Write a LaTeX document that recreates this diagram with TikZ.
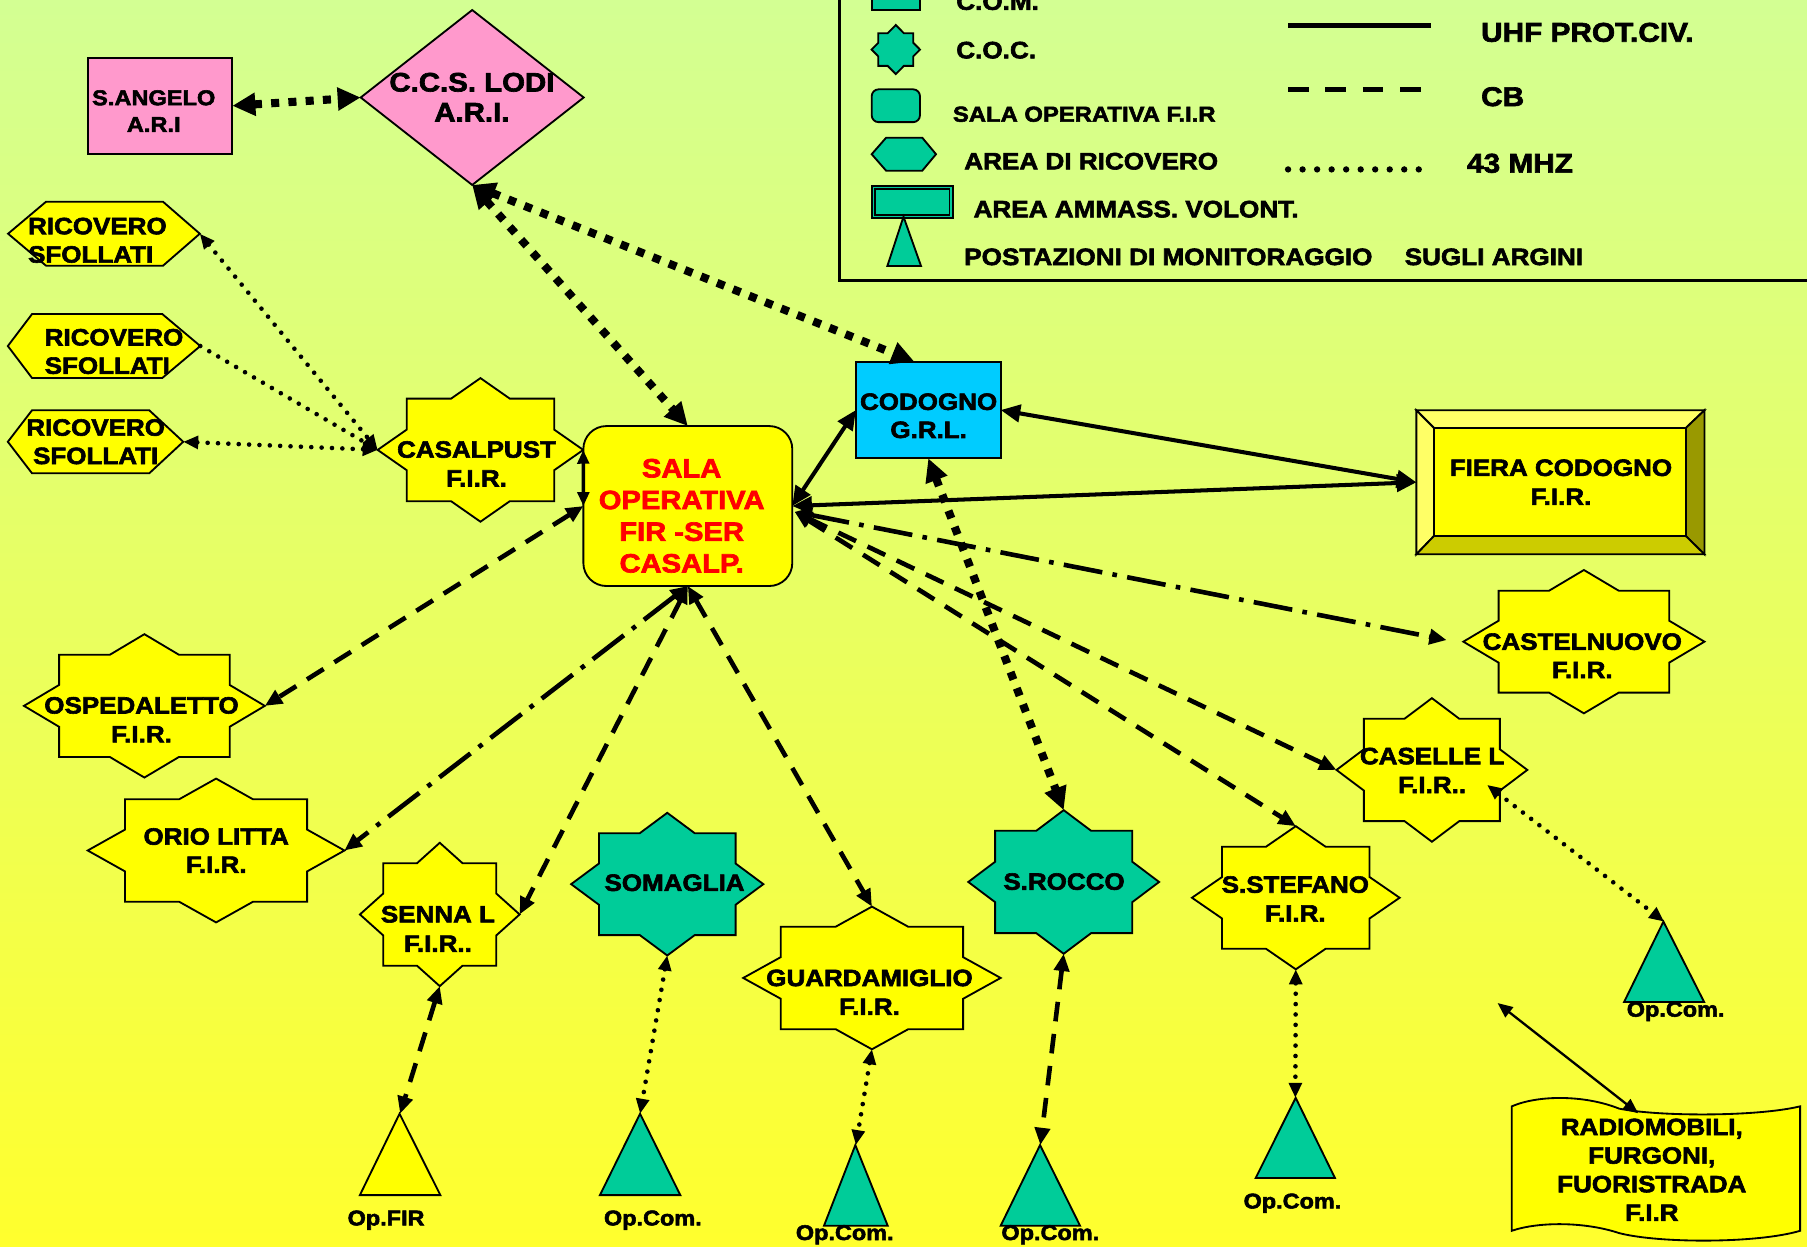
\documentclass[tikz,border=0pt]{standalone}
\usepackage{fontspec}
\setmainfont{Liberation Sans}[FakeStretch=1.1, BoldFeatures={FakeBold=2.5}]
\usetikzlibrary{arrows.meta,calc}
\definecolor{pinkf}{HTML}{FF99CC}
\definecolor{yelf}{HTML}{FFFF00}
\definecolor{tealf}{HTML}{00CC99}
\definecolor{cyanf}{HTML}{00CCFF}
\definecolor{bgtop}{RGB}{211,255,147}
\definecolor{bgbot}{RGB}{255,255,45}
\definecolor{bevlight}{HTML}{FFFF66}
\definecolor{bevdark}{HTML}{999900}
\definecolor{bevmid}{HTML}{CCCC00}
\tikzset{
  shapeline/.style={draw=black, line width=1.6pt, line join=miter},
  anchorbox/.style={rectangle, inner sep=0pt, outer sep=0pt, draw=none, fill=none},
  boxnode/.style={rectangle, draw=black, line width=1.6pt, inner sep=0pt, outer sep=0pt},
  lbl/.style={font=\fontsize{20.5}{25}\selectfont\bfseries, align=center, inner sep=0pt, text=black},
  oplbl/.style={font=\fontsize{18.5}{22}\selectfont\bfseries, anchor=base, inner sep=0pt},
  lgl/.style={font=\fontsize{20.6}{25}\selectfont\bfseries, anchor=base west, inner sep=0pt},
  lgr/.style={font=\fontsize{23.5}{28}\selectfont\bfseries, anchor=base west, inner sep=0pt},
  uhf/.style={line width=3.5pt, <->, >={Triangle[length=17pt,width=15pt]}},
  vsolid/.style={line width=3pt, <->, >={Triangle[length=12pt,width=10pt]}},
  thinsolid/.style={line width=2pt, <->, >={Triangle[length=13pt,width=11pt]}},
  sqd/.style={line width=7pt, dash pattern=on 7pt off 8pt, <->, >={Triangle[length=20pt,width=19pt]}},
  cb/.style={line width=4pt, dash pattern=on 17pt off 11pt, <->, >={Triangle[length=15pt,width=13pt]}},
  dd/.style={line width=4pt, dash pattern=on 34pt off 9pt on 4pt off 9pt, <->, >={Triangle[length=15pt,width=13pt]}},
  mhz/.style={line width=4pt, line cap=round, dash pattern=on 0pt off 9pt, <->, >={Triangle[length=13pt,width=11pt]}},
}
% eight-pointed star: name, cx, cy, a, b, p, q, fill
\newcommand\eightstar[8]{%
  \pgfmathsetmacro\stSX{#6*(1-#5/#7)}%
  \pgfmathsetmacro\stSY{#7*(1-#4/#6)}%
  \filldraw[shapeline, fill=#8, shift={(#2,#3)}] (0,-#7) -- (\stSX,-#5) -- (#4,-#5) -- (#4,-\stSY) -- (#6,0) -- (#4,\stSY) -- (#4,#5) -- (\stSX,#5) -- (0,#7) -- (-\stSX,#5) -- (-#4,#5) -- (-#4,\stSY) -- (-#6,0) -- (-#4,-\stSY) -- (-#4,-#5) -- (-\stSX,-#5) -- cycle;
  \pgfmathsetmacro\stW{2*#6}\pgfmathsetmacro\stH{2*#7}%
  \node[anchorbox, minimum width=\stW pt, minimum height=\stH pt] (#1) at (#2,#3) {};
}
% hexagon: name, x1, x2, y1, y2, inset left, inset right, fill
\newcommand\myhexa[8]{%
  \pgfmathsetmacro\hxM{(#4+#5)/2}%
  \filldraw[shapeline, fill=#8] (#2,\hxM) -- ({#2+#6},#4) -- ({#3-#7},#4) -- (#3,\hxM) -- ({#3-#7},#5) -- ({#2+#6},#5) -- cycle;
  \pgfmathsetmacro\hxW{#3-#2}\pgfmathsetmacro\hxH{#5-#4}\pgfmathsetmacro\hxX{(#2+#3)/2}%
  \node[anchorbox, minimum width=\hxW pt, minimum height=\hxH pt] (#1) at (\hxX,\hxM) {};
}
% triangle: name, apex x, apex y, base x1, base x2, base y, fill
\newcommand\mytri[7]{%
  \filldraw[shapeline, fill=#7] (#2,#3) -- (#5,#6) -- (#4,#6) -- cycle;
  \pgfmathsetmacro\trW{#5-#4}\pgfmathsetmacro\trH{#6-#3}%
  \pgfmathsetmacro\trX{(#4+#5)/2}\pgfmathsetmacro\trY{(#3+#6)/2}%
  \node[anchorbox, minimum width=\trW pt, minimum height=\trH pt] (#1) at (\trX,\trY) {};
}
\begin{document}
\begin{tikzpicture}[x=1pt,y=-1pt]
\useasboundingbox (0,0) rectangle (1568,1082);
\clip (0,0) rectangle (1568,1082);
\shade[top color=bgtop, bottom color=bgbot] (0,0) rectangle (1568,1082);

% ---------------- legend ----------------
\draw[line width=2pt] (728.5,-5) |- (1575,243.5);
\filldraw[shapeline, fill=tealf] (756.4,-20) rectangle (798.3,8.7);
\node[lgl] (lgcom) at (829.6,8.5) {C.O.M.};
\eightstar{lgstar}{777.3}{43}{15.2}{14.2}{21}{21.3}{tealf}
\node[lgl] (lgcoc) at (829.6,50.6) {C.O.C.};
\filldraw[shapeline, fill=tealf, rounded corners=6pt] (756.4,77.5) rectangle (798.3,106);
\node[lgl, font=\fontsize{18.8}{22}\selectfont\bfseries] (lgsala) at (826.7,105.6) {SALA OPERATIVA F.I.R};
\myhexa{lghex}{756.4}{812.2}{119.5}{148.1}{12.5}{11.9}{tealf}
\node[lgl] (lgarea) at (836.5,147) {AREA DI RICOVERO};
\filldraw[shapeline, fill=tealf] (756.4,161.1) rectangle (826.7,189.5);
\draw[line width=1.2pt] (759.2,163.9) rectangle (823.9,186.7);
\node[lgl] (lgamm) at (844.6,188.6) {AREA AMMASS. VOLONT.};
\mytri{lgtri}{784}{188}{770}{799.2}{230.8}{tealf}
\node[lgl] (lgpost) at (836.5,230) {POSTAZIONI DI MONITORAGGIO\hspace{28pt}SUGLI ARGINI};
\coordinate (lga1) at (1117.7,22.4); \coordinate (lga2) at (1241.8,22.4);
\coordinate (lgb1) at (1117.7,77.5); \coordinate (lgb2) at (1232.7,77.5);
\coordinate (lgc1) at (1117.7,147); \coordinate (lgc2) at (1231.2,147);
\draw[line width=4.3pt] (lga1) -- (lga2);
\draw[line width=3.8pt, dash pattern=on 17.8pt off 14.6pt] (lgb1) -- (lgb2);
\draw[line width=5.5pt, line cap=round, dash pattern=on 0pt off 12.6pt] (lgc1) -- (lgc2);
\node[lgr] (lguhf) at (1285,36.2) {UHF PROT.CIV.};
\node[lgr] (lgcb) at (1285,92) {CB};
\node[lgr] (lg43) at (1272.8,149.8) {43 MHZ};

% ---------------- shapes ----------------
% S.ANGELO
\node[boxnode, fill=pinkf, minimum width=125.6pt, minimum height=83.6pt] (sangelo) at (138.8,91.8) {};
\node[lbl, font=\fontsize{18.6}{23.2}\selectfont\bfseries] (sangeloT) at (133.4,96.4) {S.ANGELO\\A.R.I};
% C.C.S. LODI
\filldraw[shapeline, fill=pinkf] (409.75,8.7) -- (506.5,84.6) -- (409.75,160.5) -- (313,84.6) -- cycle;
\node[anchorbox, minimum width=193.5pt, minimum height=151.8pt] (ccs) at (409.75,84.6) {};
\node[lbl, font=\fontsize{23.2}{26}\selectfont\bfseries] (ccsT) at (409.5,84.3) {C.C.S. LODI\\A.R.I.};

% ricovero hexagons
\myhexa{h1}{7}{173.4}{175}{230.6}{33}{32}{yelf}
\node[lbl, font=\fontsize{20.5}{24.6}\selectfont\bfseries, align=left, anchor=west] (h1T) at (24.2,208.5) {RICOVERO\\SFOLLATI};
\myhexa{h2}{6.8}{173.8}{272.5}{328}{21}{33}{yelf}
\node[lbl, font=\fontsize{20.5}{24.6}\selectfont\bfseries, align=left, anchor=west] (h2T) at (38.6,305) {RICOVERO\\SFOLLATI};
\myhexa{h3}{6.8}{159}{356}{410.7}{21}{29.5}{yelf}
\node[lbl, font=\fontsize{20.5}{24.6}\selectfont\bfseries] (h3T) at (83,383.3) {RICOVERO\\SFOLLATI};

% stars
\eightstar{cas}{416.9}{390.4}{64}{44.5}{89.2}{62.3}{yelf}
\node[lbl] (casT) at (413.5,402.5) {CASALPUST\\F.I.R.};
\eightstar{osp}{125.3}{612.5}{74}{44.3}{104.5}{62.2}{yelf}
\node[lbl] (ospT) at (122.8,624.5) {OSPEDALETTO\\F.I.R.};
\eightstar{orio}{187.5}{738}{79}{44.5}{111.4}{62.4}{yelf}
\node[lbl, font=\fontsize{20.5}{24.4}\selectfont\bfseries] (orioT) at (187.6,738) {ORIO LITTA\\F.I.R.};
\eightstar{senna}{381.6}{793.5}{49}{44.5}{69.3}{62.2}{yelf}
\node[lbl, font=\fontsize{20.5}{25.5}\selectfont\bfseries] (sennaT) at (380,806) {SENNA L\\F.I.R..};
\eightstar{soma}{579}{767.2}{59.3}{44.2}{83.4}{61.9}{tealf}
\node[lbl] (somaT) at (585.3,766) {SOMAGLIA};
\eightstar{guard}{756.6}{848.6}{79.1}{44.5}{111.7}{61.9}{yelf}
\node[lbl] (guardT) at (754.5,861) {GUARDAMIGLIO\\F.I.R.};
\eightstar{srocco}{923}{765.3}{59.5}{44.4}{82.8}{62.3}{tealf}
\node[lbl] (sroccoT) at (923.3,765) {S.ROCCO};
\eightstar{sstef}{1124.4}{779}{64}{44.3}{90.1}{62.1}{yelf}
\node[lbl] (sstefT) at (1124,780) {S.STEFANO\\F.I.R.};
\eightstar{casel}{1242.5}{668.1}{59}{44.4}{82.8}{62.3}{yelf}
\node[lbl] (caselT) at (1242.7,668.5) {CASELLE L\\F.I.R..};
\eightstar{castel}{1374.4}{556.8}{74}{44.2}{104.6}{62.2}{yelf}
\node[lbl, font=\fontsize{20.5}{24.6}\selectfont\bfseries] (castelT) at (1373,569) {CASTELNUOVO\\F.I.R.};

% sala operativa
\node[boxnode, fill=yelf, rounded corners=20pt, minimum width=181.3pt, minimum height=138.8pt] (sala) at (596.85,439.1) {};
\node[lbl, text=red, font=\fontsize{23}{27.5}\selectfont\bfseries] (salaT) at (591.5,447.6) {SALA\\OPERATIVA\\FIR -SER\\CASALP.};

% codogno
\node[boxnode, fill=cyanf, minimum width=125.6pt, minimum height=83.8pt] (codogno) at (805.5,355.8) {};
\node[lbl, font=\fontsize{20.5}{24.4}\selectfont\bfseries] (codognoT) at (805.8,360.8) {CODOGNO\\G.R.L.};

% fiera codogno (bevel)
\filldraw[shapeline, fill=bevlight] (1229,356) -- (1479,356) -- (1462.8,371.4) -- (1244.3,371.4) -- cycle;
\filldraw[shapeline, fill=bevlight] (1229,356) -- (1244.3,371.4) -- (1244.3,465.1) -- (1229,481) -- cycle;
\filldraw[shapeline, fill=bevdark] (1479,356) -- (1479,481) -- (1462.8,465.1) -- (1462.8,371.4) -- cycle;
\filldraw[shapeline, fill=bevmid] (1229,481) -- (1479,481) -- (1462.8,465.1) -- (1244.3,465.1) -- cycle;
\filldraw[shapeline, fill=yelf] (1244.3,371.4) rectangle (1462.8,465.1);
\node[anchorbox, minimum width=250pt, minimum height=125pt] (fiera) at (1354,418.5) {};
\node[lbl, font=\fontsize{20.5}{25.2}\selectfont\bfseries] (fieraT) at (1354.5,418.4) {FIERA CODOGNO\\F.I.R.};

% radiomobili (punched tape)
\filldraw[shapeline, fill=yelf] (1311.8,960) .. controls (1335,950) and (1375,950) .. (1405,962) .. controls (1440,969) and (1525,969) .. (1562,960) -- (1562,1068) .. controls (1525,1079) and (1440,1079) .. (1405,1070) .. controls (1375,1060) and (1335,1060) .. (1311.8,1068) -- cycle;
\node[anchorbox, minimum width=250.2pt, minimum height=108pt] (radio) at (1436.9,1014) {};
\node[lbl, font=\fontsize{20.5}{24.8}\selectfont\bfseries] (radioT) at (1433.3,1015) {RADIOMOBILI,\\FURGONI,\\FUORISTRADA\\F.I.R};

% triangles
\mytri{t1}{346.7}{966.4}{312.3}{382.1}{1037}{yelf}
\mytri{t2}{555.4}{966.4}{520.6}{590.3}{1037}{tealf}
\mytri{t3}{742.2}{993.6}{715}{770.3}{1063.6}{tealf}
\mytri{t4}{902.5}{993.6}{868.3}{937.2}{1063.6}{tealf}
\mytri{t5}{1124.3}{952.6}{1089.6}{1158.4}{1022.2}{tealf}
\mytri{t6}{1443.4}{799.7}{1409.3}{1478.7}{869.4}{tealf}
\node[oplbl] (t1L) at (335,1063.3) {Op.FIR};
\node[oplbl] (t2L) at (566.5,1063.3) {Op.Com.};
\node[oplbl] (t3L) at (733,1076) {Op.Com.};
\node[oplbl] (t4L) at (911.4,1076) {Op.Com.};
\node[oplbl] (t5L) at (1121.5,1048.6) {Op.Com.};
\node[oplbl] (t6L) at (1454,882.2) {Op.Com.};

% ---------------- connectors ----------------
\coordinate (salaR) at ($(sala.east)+(2,5)$);
\coordinate (radfree) at (1299.5,870.4);
% UHF
\draw[uhf] (codogno.west) -- (sala.east);
\draw[uhf] (sala.east) -- (fiera.west);
\draw[uhf] (codogno.east) -- (fiera.west);
\draw[vsolid] (cas.east) -- (sala.west);
\draw[thinsolid] ($(radio.north)+(-15.4,6)$) -- (radfree);
% heavy square dots
\draw[sqd] (sangelo.east) -- (ccs.west);
\draw[sqd] (ccs.south) -- (sala.north);
\draw[sqd] (ccs.south) -- ($(codogno.north)+(-12,0)$);
\draw[sqd] (codogno.south) -- (srocco.north);
% CB dashed
\draw[cb] (sala.west) -- (osp.east);
\draw[cb] (sala.south) -- (senna.east);
\draw[cb] (sala.south) -- (guard.north);
\draw[cb] (salaR) -- (casel.west);
\draw[cb] (salaR) -- (sstef.north);
\draw[cb] (senna.south) -- (t1.north);
\draw[cb] (srocco.south) -- (t4.north);
% dash-dot
\draw[dd] (sala.south) -- (orio.east);
\draw[dd] (salaR) -- ($(castel.west)+(-14.5,-1.4)$);
% 43 MHz dotted
\draw[mhz] (h1.east) -- (cas.west);
\draw[mhz, ->] (h2.east) -- (cas.west);
\draw[mhz] (h3.east) -- (cas.west);
\draw[mhz] (soma.south) -- (t2.north);
\draw[mhz] (guard.south) -- (t3.north);
\draw[mhz] (sstef.south) -- (t5.north);
\draw[mhz] ($(casel.center)+(48,13)$) -- (t6.north);
\end{tikzpicture}
\end{document}
